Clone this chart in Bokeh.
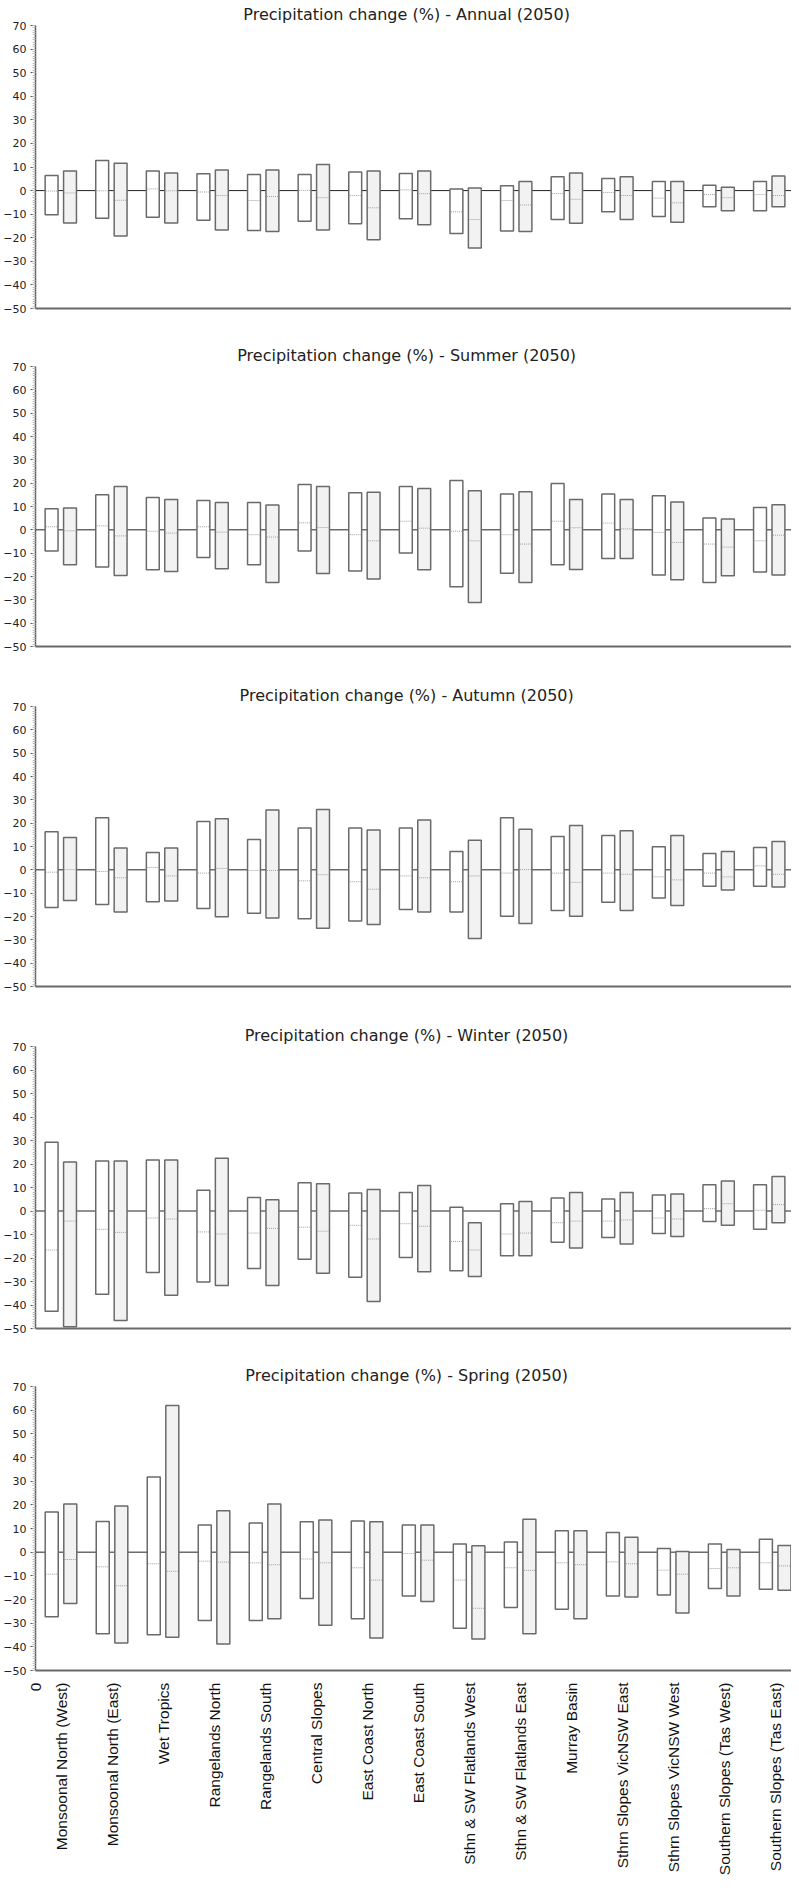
import math
from bokeh.plotting import figure
from bokeh.models import (ColumnDataSource, Range1d, Span, SingleIntervalTicker,
                          FixedTicker)
from bokeh.layouts import column
from bokeh.embed import file_html
from bokeh.resources import INLINE

regions = ["Monsoonal North (West)", "Monsoonal North (East)", "Wet Tropics",
           "Rangelands North", "Rangelands South", "Central Slopes",
           "East Coast North", "East Coast South", "Sthn & SW Flatlands West",
           "Sthn & SW Flatlands East", "Murray Basin", "Sthrn Slopes VicNSW East",
           "Sthrn Slopes VicNSW West", "Southern Slopes (Tas West)",
           "Southern Slopes (Tas East)"]
seasons = ["Annual", "Summer", "Autumn", "Winter", "Spring"]
year = "2050"
y_ticks_interval = 10
origin_label = "0"

# white (first) boxes: max / median / min ; grey (second) boxes: max / median / min
annual_w_hi = [6.4, 12.8, 8.3, 7.1, 6.8, 6.8, 7.9, 7.2, 0.7, 2.0, 5.9, 5.1, 3.8, 2.3, 3.8]
annual_w_med = [-0.2, -0.1, 0.7, -0.6, -4.2, 0.1, -2.1, 0.3, -9.0, -4.2, -1.3, -0.8, -3.2, -1.7, -1.7]
annual_w_lo = [-10.2, -11.7, -11.3, -12.6, -16.9, -13.0, -14.1, -11.9, -18.2, -17.1, -12.3, -9.0, -11.0, -6.9, -8.5]
annual_g_hi = [8.3, 11.6, 7.5, 8.7, 8.7, 11.1, 8.3, 8.3, 1.1, 3.8, 7.5, 5.9, 3.8, 1.4, 6.2]
annual_g_med = [-1.0, -4.1, -0.1, -2.1, -2.5, -3.0, -7.3, -1.3, -12.3, -6.1, -3.7, -2.1, -5.2, -3.0, -2.1]
annual_g_lo = [-13.7, -19.3, -13.7, -16.7, -17.4, -16.7, -20.9, -14.5, -24.3, -17.4, -13.8, -12.3, -13.4, -8.5, -6.9]

summer_w_hi = [9.0, 15.0, 13.9, 12.6, 11.7, 19.4, 15.9, 18.6, 21.1, 15.4, 19.9, 15.4, 14.6, 5.1, 9.6]
summer_w_med = [1.3, 1.7, -0.6, 1.3, -2.1, 3.0, -2.1, 3.7, -0.6, -2.1, 3.7, 2.9, -1.1, -6.1, -4.7]
summer_w_lo = [-9.1, -15.9, -17.1, -11.9, -15.0, -9.1, -17.6, -9.9, -24.4, -18.6, -15.0, -12.3, -19.4, -22.6, -18.1]
summer_g_hi = [9.4, 18.6, 13.0, 11.7, 10.6, 18.6, 16.1, 17.7, 16.7, 16.3, 13.0, 13.0, 11.9, 4.6, 10.7]
summer_g_med = [-0.4, -2.6, -1.4, -1.0, -3.1, 1.0, -4.7, 0.7, -4.7, -6.1, 0.9, 0.4, -5.4, -7.4, -2.3]
summer_g_lo = [-15.0, -19.6, -17.9, -16.7, -22.6, -18.7, -21.1, -17.1, -31.1, -22.6, -17.0, -12.3, -21.4, -19.7, -19.4]

autumn_w_hi = [16.3, 22.3, 7.4, 20.7, 13.0, 17.9, 17.9, 17.9, 7.9, 22.3, 14.3, 14.7, 9.9, 7.0, 9.6]
autumn_w_med = [-1.0, -0.7, 1.0, -1.4, -0.3, -4.7, -5.1, -2.6, -5.1, -1.4, -1.4, -1.4, -3.0, -1.4, 1.7]
autumn_w_lo = [-16.1, -14.9, -13.7, -16.6, -18.6, -21.0, -21.9, -17.0, -18.1, -19.9, -17.4, -13.9, -12.1, -7.0, -7.0]
autumn_g_hi = [13.9, 9.4, 9.4, 21.9, 25.6, 25.9, 17.1, 21.4, 12.7, 17.4, 19.0, 16.7, 14.7, 7.9, 12.1]
autumn_g_med = [0.1, -3.4, -2.6, 0.6, -0.3, -2.1, -8.3, -3.4, -2.6, 0.1, -5.4, -1.9, -4.3, -3.0, -1.9]
autumn_g_lo = [-13.1, -18.1, -13.4, -20.1, -20.6, -25.0, -23.4, -18.1, -29.4, -23.0, -19.9, -17.4, -15.3, -8.6, -7.4]

winter_w_hi = [29.3, 21.3, 21.7, 8.8, 5.7, 12.0, 7.7, 7.9, 1.6, 3.1, 5.5, 5.1, 6.8, 11.2, 11.2]
winter_w_med = [-16.6, -7.8, -3.0, -8.9, -9.4, -6.9, -6.1, -5.4, -13.0, -9.8, -5.0, -4.3, -3.0, 1.0, 0.3]
winter_w_lo = [-42.7, -35.4, -26.2, -30.2, -24.5, -20.5, -28.2, -19.8, -25.4, -19.0, -13.3, -11.3, -9.6, -4.5, -7.8]
winter_g_hi = [20.8, 21.3, 21.7, 22.5, 4.8, 11.6, 9.2, 10.8, -5.0, 4.0, 7.9, 7.9, 7.2, 12.8, 14.7]
winter_g_med = [-4.3, -9.1, -3.4, -9.8, -7.4, -8.6, -11.9, -6.5, -16.6, -9.4, -4.3, -3.8, -3.4, 3.1, 2.7]
winter_g_lo = [-49.3, -46.6, -35.9, -31.7, -31.7, -26.5, -38.5, -25.8, -27.9, -19.0, -15.7, -14.0, -10.9, -6.1, -5.0]

spring_w_hi = [17.0, 13.0, 31.8, 11.5, 12.3, 12.8, 13.2, 11.5, 3.5, 4.3, 9.1, 8.3, 1.5, 3.5, 5.5]
spring_w_med = [-9.3, -6.2, -4.9, -3.8, -4.5, -2.9, -6.6, -0.6, -11.8, -6.6, -4.5, -4.1, -7.6, -6.9, -4.5]
spring_w_lo = [-27.3, -34.5, -34.9, -28.9, -28.9, -19.6, -28.1, -18.5, -32.1, -23.4, -24.1, -18.5, -18.1, -15.3, -15.7]
spring_g_hi = [20.3, 19.5, 62.0, 17.5, 20.3, 13.6, 12.8, 11.5, 2.7, 13.9, 9.1, 6.3, 0.3, 1.1, 2.8]
spring_g_med = [-3.1, -14.2, -8.1, -4.2, -5.3, -4.5, -11.8, -3.4, -23.7, -7.7, -5.3, -4.9, -9.3, -6.6, -5.8]
spring_g_lo = [-21.7, -38.4, -36.0, -38.8, -28.1, -30.9, -36.3, -20.8, -36.7, -34.5, -28.1, -18.9, -25.7, -18.5, -16.1]

season_data = {
    "Annual": (annual_w_hi, annual_w_med, annual_w_lo, annual_g_hi, annual_g_med, annual_g_lo),
    "Summer": (summer_w_hi, summer_w_med, summer_w_lo, summer_g_hi, summer_g_med, summer_g_lo),
    "Autumn": (autumn_w_hi, autumn_w_med, autumn_w_lo, autumn_g_hi, autumn_g_med, autumn_g_lo),
    "Winter": (winter_w_hi, winter_w_med, winter_w_lo, winter_g_hi, winter_g_med, winter_g_lo),
    "Spring": (spring_w_hi, spring_w_med, spring_w_lo, spring_g_hi, spring_g_med, spring_g_lo),
}

# ---- layout / style ----
FIG_W = 791
FRAME_LEFT_BORDER = 29
heights = [341, 340, 340, 340, 519]
bottoms = [33, 35, 35, 33, 210]
x_spans = [14.94, 14.94, 14.94, 14.94, 14.82]
OFF = 0.182
BW = 0.255
TITLE_SIZE = 16
TITLE_CENTER = 371.5  # px from frame left

_w = {' ': 0.318, 'P': 0.603, 'r': 0.411, 'e': 0.615, 'c': 0.550, 'i': 0.278, 'p': 0.635,
      't': 0.392, 'a': 0.613, 'o': 0.612, 'n': 0.634, 'h': 0.634, 'g': 0.635, '(': 0.390,
      ')': 0.390, '%': 0.950, '-': 0.361, 'A': 0.684, 'u': 0.634, 'l': 0.278, 'S': 0.635,
      'm': 0.974, 'W': 0.989, 's': 0.521, '0': 0.636, '2': 0.636, '5': 0.636}


def text_w(s, size):
    return sum(_w.get(ch, 0.6) for ch in s) * size


figs = []
n = len(regions)
idx = list(range(n))
for k, season in enumerate(seasons):
    w_hi, w_med, w_lo, g_hi, g_med, g_lo = season_data[season]
    last = (k == len(seasons) - 1)
    title = f"Precipitation change (%) - {season} ({year})"
    p = figure(width=FIG_W, height=heights[k],
               x_range=Range1d(-0.5, -0.5 + x_spans[k]), y_range=Range1d(-50, 70),
               output_backend="svg", toolbar_location=None,
               min_border_left=FRAME_LEFT_BORDER, min_border_right=0,
               min_border_top=24, min_border_bottom=bottoms[k], title=title)
    p.outline_line_color = None
    p.xgrid.grid_line_color = None
    p.ygrid.grid_line_color = None
    p.background_fill_color = "white"
    p.border_fill_color = "white"

    p.title.text_font = "DejaVu Sans"
    p.title.text_font_size = f"{TITLE_SIZE}px"
    p.title.text_font_style = "normal"
    p.title.text_color = "#222222"
    p.title.align = "left"
    p.title.offset = TITLE_CENTER - text_w(title, TITLE_SIZE) / 2
    p.title.standoff = 4

    p.add_layout(Span(location=0, dimension="width", line_color="#222222",
                      line_width=1, level="underlay"))

    for hi, med, lo, sign, fill in ((w_hi, w_med, w_lo, -1, "#ffffff"),
                                    (g_hi, g_med, g_lo, 1, "#f2f2f2")):
        xs = [i + sign * OFF for i in idx]
        src = ColumnDataSource(dict(x=xs, top=hi, bottom=lo, med=med,
                                    x0=[x - BW / 2 + 0.02 for x in xs],
                                    x1=[x + BW / 2 - 0.02 for x in xs]))
        p.vbar(x="x", width=BW, top="top", bottom="bottom", source=src,
               fill_color=fill, line_color="#6a6a6a", line_width=1.5)
        p.segment(x0="x0", y0="med", x1="x1", y1="med", source=src,
                  line_color="#a0a0a0", line_width=1, line_dash="1 1")

    yax = p.yaxis[0]
    yax.ticker = SingleIntervalTicker(interval=y_ticks_interval, num_minor_ticks=10)
    yax.axis_line_color = "#5a5a5a"
    yax.axis_line_width = 1.5
    yax.major_tick_line_color = "#5a5a5a"
    yax.major_tick_out = 5
    yax.major_tick_in = 0
    yax.minor_tick_line_color = "#c0c0c0"
    yax.minor_tick_out = 3
    yax.minor_tick_in = 0
    yax.major_label_text_font = "DejaVu Sans"
    yax.major_label_text_font_size = "11px"
    yax.major_label_text_color = "#222222"
    yax.major_label_standoff = 4

    xax = p.xaxis[0]
    xax.axis_line_color = "#6a6a6a"
    xax.axis_line_width = 2
    xax.major_tick_line_color = None
    xax.minor_tick_line_color = None
    xax.major_tick_out = 0
    xax.major_tick_in = 0
    xax.minor_tick_out = 0
    xax.minor_tick_in = 0
    if last:
        xax.ticker = FixedTicker(ticks=[-0.5] + idx)
        overrides = {i: regions[i] for i in idx}
        overrides[-0.5] = origin_label
        xax.major_label_overrides = overrides
        xax.major_label_orientation = math.pi / 2
        xax.major_label_text_font = "Liberation Sans"
        xax.major_label_text_font_size = "15.5px"
        xax.major_label_text_color = "#111111"
        xax.major_label_standoff = 12
    else:
        xax.ticker = FixedTicker(ticks=[])
        xax.major_label_text_font_size = "0px"
    figs.append(p)

layout = column(*figs, spacing=0)
open("out.html", "w").write(file_html(layout, INLINE))
